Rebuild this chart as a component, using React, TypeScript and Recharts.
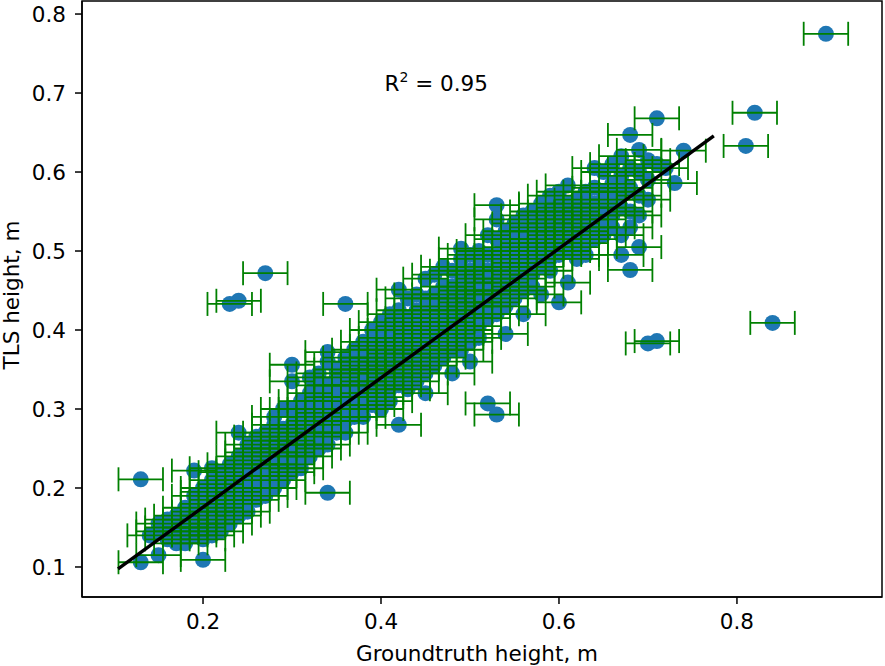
import { ScatterChart, Scatter, XAxis, YAxis, ErrorBar, ReferenceLine, ReferenceDot, ReferenceArea } from 'recharts';

// groundtruth heights (m) come in 0.01 steps; each entry lists the TLS heights measured at that value
const groundtruthSteps = [
  0.13, 0.14, 0.15, 0.16, 0.17, 0.18, 0.19, 0.2, 0.21, 0.22, 0.23, 0.24, 0.25, 0.26, 0.27, 0.28, 0.29,
  0.3, 0.31, 0.32, 0.33, 0.34, 0.35, 0.36, 0.37, 0.38, 0.39, 0.4, 0.41, 0.42, 0.43, 0.44, 0.45, 0.46,
  0.47, 0.48, 0.49, 0.5, 0.51, 0.52, 0.53, 0.54, 0.55, 0.56, 0.57, 0.58, 0.59, 0.6, 0.61, 0.62, 0.63,
  0.64, 0.65, 0.66, 0.67, 0.68, 0.69, 0.7, 0.71, 0.72, 0.73, 0.74, 0.81, 0.82, 0.84, 0.9,
];

const tlsHeights = [
  [0.211, 0.106],
  [0.14],
  [0.115, 0.155, 0.145],
  [0.15, 0.135, 0.16],
  [0.145, 0.165, 0.13],
  [0.16, 0.14, 0.175, 0.15, 0.13],
  [0.19, 0.17, 0.155, 0.14, 0.222, 0.145],
  [0.109, 0.2, 0.18, 0.165, 0.15, 0.135, 0.195],
  [0.225, 0.2, 0.185, 0.17, 0.155, 0.14, 0.21],
  [0.19, 0.175, 0.16, 0.205, 0.145, 0.22],
  [0.433, 0.215, 0.2, 0.185, 0.17, 0.155, 0.23],
  [0.437, 0.27, 0.24, 0.21, 0.195, 0.18, 0.165, 0.225],
  [0.255, 0.235, 0.215, 0.2, 0.185, 0.17, 0.245],
  [0.25, 0.23, 0.215, 0.2, 0.185, 0.265, 0.24],
  [0.472, 0.27, 0.25, 0.23, 0.215, 0.2, 0.26, 0.19],
  [0.28, 0.26, 0.245, 0.23, 0.215, 0.2, 0.29],
  [0.3, 0.275, 0.255, 0.24, 0.225, 0.21, 0.265],
  [0.356, 0.335, 0.3, 0.28, 0.26, 0.245, 0.23, 0.22],
  [0.31, 0.29, 0.27, 0.255, 0.24, 0.225, 0.3],
  [0.32, 0.3, 0.285, 0.27, 0.255, 0.24, 0.34, 0.31],
  [0.33, 0.31, 0.295, 0.28, 0.265, 0.25, 0.345],
  [0.372, 0.36, 0.33, 0.315, 0.3, 0.285, 0.27, 0.194, 0.255],
  [0.35, 0.33, 0.315, 0.3, 0.285, 0.27, 0.34],
  [0.433, 0.365, 0.345, 0.33, 0.315, 0.3, 0.285, 0.27],
  [0.36, 0.345, 0.33, 0.315, 0.3, 0.29, 0.375],
  [0.385, 0.365, 0.35, 0.335, 0.32, 0.305, 0.29, 0.355],
  [0.4, 0.38, 0.365, 0.35, 0.335, 0.32, 0.305],
  [0.41, 0.39, 0.375, 0.36, 0.345, 0.33, 0.315, 0.3],
  [0.42, 0.4, 0.385, 0.37, 0.355, 0.34, 0.325, 0.31],
  [0.451, 0.425, 0.405, 0.39, 0.375, 0.36, 0.345, 0.33, 0.28],
  [0.44, 0.415, 0.4, 0.385, 0.37, 0.355, 0.34, 0.325],
  [0.445, 0.425, 0.41, 0.395, 0.38, 0.365, 0.35, 0.335],
  [0.465, 0.44, 0.42, 0.405, 0.39, 0.375, 0.36, 0.345, 0.32],
  [0.47, 0.445, 0.43, 0.415, 0.4, 0.385, 0.37, 0.355],
  [0.48, 0.455, 0.44, 0.425, 0.41, 0.395, 0.38, 0.365],
  [0.475, 0.455, 0.44, 0.425, 0.41, 0.395, 0.375, 0.345],
  [0.503, 0.49, 0.47, 0.45, 0.435, 0.42, 0.405, 0.39, 0.375],
  [0.495, 0.475, 0.46, 0.445, 0.43, 0.415, 0.4, 0.385, 0.36],
  [0.5, 0.48, 0.465, 0.45, 0.435, 0.42, 0.405, 0.39],
  [0.52, 0.495, 0.475, 0.46, 0.445, 0.43, 0.415, 0.307],
  [0.558, 0.54, 0.515, 0.495, 0.48, 0.465, 0.45, 0.435, 0.42, 0.293],
  [0.525, 0.505, 0.49, 0.475, 0.46, 0.445, 0.43, 0.395],
  [0.535, 0.515, 0.5, 0.485, 0.47, 0.455, 0.44],
  [0.545, 0.525, 0.51, 0.495, 0.48, 0.465, 0.45, 0.42],
  [0.55, 0.53, 0.515, 0.5, 0.485, 0.47, 0.455],
  [0.56, 0.54, 0.525, 0.51, 0.495, 0.48, 0.445],
  [0.57, 0.55, 0.535, 0.52, 0.505, 0.49, 0.475],
  [0.575, 0.555, 0.54, 0.525, 0.51, 0.495, 0.435],
  [0.583, 0.56, 0.545, 0.53, 0.515, 0.5, 0.46],
  [0.565, 0.55, 0.535, 0.52, 0.505, 0.49],
  [0.575, 0.555, 0.54, 0.525, 0.51, 0.495],
  [0.605, 0.58, 0.56, 0.545, 0.53, 0.515],
  [0.6, 0.575, 0.555, 0.54, 0.52],
  [0.61, 0.585, 0.565, 0.545, 0.53],
  [0.62, 0.595, 0.575, 0.555, 0.52, 0.495],
  [0.647, 0.605, 0.58, 0.55, 0.53, 0.476],
  [0.628, 0.6, 0.57, 0.545, 0.505],
  [0.615, 0.59, 0.565, 0.383],
  [0.668, 0.61, 0.386],
  [0.605],
  [0.586],
  [0.627],
  [0.633],
  [0.675],
  [0.409],
  [0.775],
];

const groundtruthError = 0.025;

const fitLine = [
  { x: 0.1045, y: 0.0975 },
  { x: 0.774, y: 0.6456 },
];

const rSquared = 0.95;
const xDomain = [0.064, 0.963];
const yDomain = [0.062, 0.8165];
const xTicks = [0.2, 0.4, 0.6, 0.8];
const yTicks = [0.1, 0.2, 0.3, 0.4, 0.5, 0.6, 0.7, 0.8];

const points = groundtruthSteps.flatMap((gt, i) =>
  tlsHeights[i].map((tls) => ({ gt, tls, err: groundtruthError }))
);

const FONT = 'DejaVu Sans, sans-serif';
const tickStyle = { fontSize: 21.5, fill: '#000', fontFamily: FONT };

const Dot = (p: any) => <circle cx={p.cx} cy={p.cy} r={8} fill="#1f77b4" />;
const NoDot = () => <g />;

const R2Label = (p: any) => {
  const vb = p.viewBox || {};
  const cx = (vb.x ?? 0) + (vb.width ?? 0) / 2;
  const cy = (vb.y ?? 0) + (vb.height ?? 0) / 2;
  return (
    <text x={cx} y={cy + 7} textAnchor="middle" fontSize={21.5} fontFamily={FONT} fill="#000">
      R
      <tspan dy={-9} fontSize={14}>2</tspan>
      <tspan dy={9}>{` = ${rSquared.toFixed(2)}`}</tspan>
    </text>
  );
};

const XLabel = () => (
  <text x={477} y={661} textAnchor="middle" fontSize={21.5} fontFamily={FONT} fill="#000">
    Groundtruth height, m
  </text>
);

const YLabel = () => (
  <text
    x={19}
    y={295}
    transform="rotate(-90, 19, 295)"
    textAnchor="middle"
    fontSize={21.5}
    fontFamily={FONT}
    fill="#000"
  >
    TLS height, m
  </text>
);

export default function App() {
  return (
    <div style={{ position: 'absolute', left: 0, top: 0, background: '#fff' }}>
      <ScatterChart
        width={885}
        height={666}
        margin={{ top: 1, right: 3, bottom: 0, left: 0 }}
        style={{ fontFamily: FONT }}
      >
        <XAxis
          type="number"
          dataKey="gt"
          domain={xDomain}
          allowDataOverflow
          ticks={xTicks}
          tickFormatter={(v: number) => v.toFixed(1)}
          tick={tickStyle}
          tickSize={7}
          tickMargin={10}
          height={69}
          stroke="#000"
          strokeWidth={1.5}
          label={<XLabel />}
        />
        <YAxis
          type="number"
          dataKey="tls"
          domain={yDomain}
          allowDataOverflow
          ticks={yTicks}
          tickFormatter={(v: number) => v.toFixed(1)}
          tick={tickStyle}
          tickSize={7}
          tickMargin={9}
          width={82}
          stroke="#000"
          strokeWidth={1.5}
          label={<YLabel />}
        />
        <ReferenceArea
          x1={xDomain[0]}
          x2={xDomain[1]}
          y1={yDomain[0]}
          y2={yDomain[1]}
          fill="none"
          stroke="#000"
          strokeWidth={1.5}
          fillOpacity={0}
          zIndex={900}
        />
        <Scatter data={points} shape={Dot} isAnimationActive={false} zIndex={600} />
        <Scatter data={points} shape={NoDot} isAnimationActive={false} zIndex={700}>
          <ErrorBar
            dataKey="err"
            direction="x"
            width={12}
            stroke="#008000"
            strokeWidth={1.8}
            zIndex={700}
          />
        </Scatter>
        <ReferenceLine segment={fitLine} stroke="#000" strokeWidth={3.4} zIndex={800} />
        <ReferenceDot
          x={0.462}
          y={0.711}
          r={0}
          fill="none"
          stroke="none"
          label={{ content: (p: any) => <R2Label {...p} /> }}
        />
      </ScatterChart>
    </div>
  );
}
